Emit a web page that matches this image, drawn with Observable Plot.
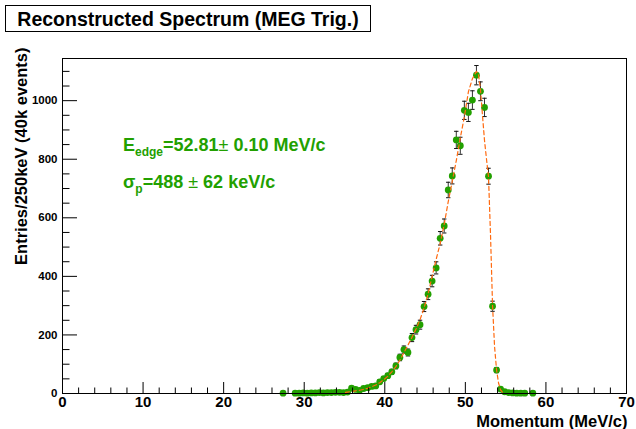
<!DOCTYPE html>
<html><head><meta charset="utf-8">
<script src="https://cdn.jsdelivr.net/npm/d3@7"></script>
<script src="https://cdn.jsdelivr.net/npm/@observablehq/plot@0.6"></script>
<style>
body{margin:0;background:#fff;font-family:"Liberation Sans",Arial,Helvetica,sans-serif;}
#wrap{position:relative;width:636px;height:429px;overflow:hidden;background:#fff}
#title{position:absolute;left:5px;top:5px;width:364px;height:25px;border:1px solid #000;font-weight:bold;font-size:19.5px;line-height:27px;text-align:center;background:#fff;z-index:2;color:#000;white-space:nowrap}
#chart{position:absolute;left:0;top:0}
</style></head><body>
<div id="wrap"><div id="title">Reconstructed Spectrum (MEG Trig.)</div><div id="chart"></div></div>
<script>
// Histogram bin centres (MeV/c)
const momentum = [27.375, 28.875, 29.375, 29.875, 30.375, 30.875, 31.375, 31.875, 32.375, 32.875,
  33.375, 33.875, 34.375, 34.875, 35.375, 35.875, 36.375, 36.875, 37.375, 37.875,
  38.375, 38.875, 39.375, 39.875, 40.375, 40.875, 41.375, 41.875, 42.375, 42.875,
  43.375, 43.875, 44.375, 44.875, 45.375, 45.875, 46.375, 46.875, 47.375, 47.875,
  48.375, 48.875, 49.375, 49.875, 50.375, 50.875, 51.375, 51.875, 52.375, 52.875,
  53.375, 53.875, 54.375, 54.875, 55.375, 55.875, 56.375, 56.875, 57.375, 58.375];
// Entries per bin
const entries = [1, 1, 1, 2, 1, 2, 2, 3, 2, 3,
  3, 4, 4, 3, 5, 18, 14, 11, 17, 20,
  24, 26, 40, 51, 61, 74, 94, 123, 150, 140,
  191, 218, 235, 297, 339, 384, 429, 530, 572, 695,
  743, 866, 846, 967, 960, 1002, 1087, 1032, 977, 742,
  298, 80, 15, 6, 3, 2, 1, 1, 1, 1];
// Statistical errors per bin
const errors = [1, 1, 1, 1.4, 1, 1.4, 1.4, 1.7, 1.4, 1.7,
  1.7, 2, 2, 1.7, 2.2, 4.2, 3.7, 3.3, 4.1, 4.5,
  4.9, 5.1, 6.3, 7.1, 7.8, 8.6, 9.7, 11.1, 12.2, 11.8,
  13.8, 14.8, 15.3, 17.2, 18.4, 19.6, 20.7, 23, 23.9, 26.4,
  27.3, 29.4, 29.1, 31.1, 31, 31.7, 33, 32.1, 31.3, 27.2,
  17.3, 8.9, 3.9, 2.4, 1.7, 1.4, 1, 1, 1, 1];
// Fitted function (dashed curve)
const fitMomentum = [35.125, 35.375, 35.875, 36.375, 36.875, 37.375, 37.875, 38.375, 38.875, 39.375,
  39.875, 40.375, 40.875, 41.375, 41.875, 42.375, 42.875, 43.375, 43.875, 44.375,
  44.875, 45.375, 45.875, 46.375, 46.875, 47.375, 47.875, 48.375, 48.875, 49.375,
  49.875, 50.375, 50.875, 51.375, 51.625, 51.875, 52.125, 52.375, 52.625, 52.875,
  53.125, 53.375, 53.625, 53.875, 54.125, 54.375, 54.625, 54.875];
const fitEntries = [4, 5, 7, 9, 11, 14, 18, 23, 29, 37,
  47, 59, 74, 92, 114, 139, 165, 192, 220, 252,
  292, 340, 400, 458, 512, 578, 655, 725, 795, 873,
  945, 1030, 1075, 1100, 1090, 1040, 950, 865, 800, 740,
  540, 300, 160, 80, 35, 12, 4, 1];
// Axis ticks
const xTicks = [0, 10, 20, 30, 40, 50, 60, 70];
const yTicks = [0, 200, 400, 600, 800, 1000];
const xMinor = d3.range(0, 71, 2).filter(v => v % 10 !== 0);
const yMinor = d3.range(0, 1144, 50).filter(v => v % 200 !== 0);

const points = momentum.map((m, i) => ({m, n: entries[i], e: errors[i]}));
const fit = fitMomentum.map((m, i) => ({m, n: fitEntries[i]}));

const W = 636, H = 429, mL = 62, mR = 10, mT = 58, mB = 36;
const fw = W - mL - mR, fh = H - mT - mB;
const green = "#22a000";
const font = "'Liberation Sans', Arial, Helvetica, sans-serif";

const capSymbol = {draw(ctx, size) { const r = Math.sqrt(size / Math.PI); ctx.moveTo(-r, 0); ctx.lineTo(r, 0); }};

const plot = Plot.plot({
  width: W, height: H,
  marginLeft: mL, marginRight: mR, marginTop: mT, marginBottom: mB,
  style: {fontFamily: font, background: "transparent", color: "#000", overflow: "visible"},
  x: {domain: [0, 70], label: null},
  y: {domain: [0, 1144], label: null},
  marks: [
    Plot.ruleX(points, {x: "m", y1: d => d.n - d.e, y2: d => d.n + d.e, stroke: "#333", strokeWidth: 1}),
    Plot.dot(points, {x: "m", y: d => d.n + d.e, symbol: capSymbol, r: 2.2, stroke: "#111", fill: "none", strokeWidth: 1}),
    Plot.dot(points, {x: "m", y: d => d.n - d.e, symbol: capSymbol, r: 2.2, stroke: "#111", fill: "none", strokeWidth: 1}),
    Plot.dot(points, {x: "m", y: "n", r: 3.4, fill: green, stroke: "none"}),
    Plot.line(fit, {x: "m", y: "n", stroke: "#ff6a10", strokeWidth: 1.2, strokeDasharray: "4,3"}),
    Plot.frame({stroke: "#000", strokeWidth: 1}),
    Plot.ruleX(xTicks, {x: d => d, insetTop: fh - 11, stroke: "#000"}),
    Plot.ruleX(xMinor, {x: d => d, insetTop: fh - 5.5, stroke: "#000"}),
    Plot.ruleY(yTicks, {y: d => d, insetRight: fw - 15, stroke: "#000"}),
    Plot.ruleY(yMinor, {y: d => d, insetRight: fw - 7.5, stroke: "#000"}),
    Plot.axisX({ticks: xTicks, tickSize: 0, tickPadding: 3, fontSize: 15, fontWeight: "bold", tickFormat: d => String(d), label: null}),
    Plot.axisY({ticks: yTicks, tickSize: 0, tickPadding: 5, fontSize: 11.5, fontWeight: "bold", tickFormat: d => String(d), label: null}),
    Plot.text(["Entries/250keV (40k events)"], {frameAnchor: "top-left", rotate: -90, textAnchor: "end", dx: -47, dy: -11, fontSize: 16.5, fontWeight: "bold", fill: "#000"}),
    Plot.text(["Momentum (MeV/c)"], {frameAnchor: "bottom-right", textAnchor: "end", lineAnchor: "bottom", dx: 1, dy: 33, fontSize: 16.5, fontWeight: "bold", fill: "#000"})
  ]
});
document.getElementById("chart").appendChild(plot);

// Fit-result annotations
const svg = d3.select(plot);
const t1 = svg.append("text").attr("x", 123).attr("y", 151).attr("fill", green).attr("text-anchor", "start")
  .attr("font-family", font).attr("font-size", 18).attr("font-weight", "bold");
t1.append("tspan").text("E");
t1.append("tspan").attr("font-size", 12).attr("dy", 5).text("edge");
t1.append("tspan").attr("dy", -5).text("=52.81");
t1.append("tspan").attr("font-weight", "normal").text("\u00B1");
t1.append("tspan").text(" 0.10 MeV/c");
const t2 = svg.append("text").attr("x", 123).attr("y", 188).attr("fill", green).attr("text-anchor", "start")
  .attr("font-family", font).attr("font-size", 18).attr("font-weight", "bold");
t2.append("tspan").text("\u03C3");
t2.append("tspan").attr("font-size", 12).attr("dy", 5).text("p");
t2.append("tspan").attr("dy", -5).text("=488 ");
t2.append("tspan").attr("font-weight", "normal").text("\u00B1");
t2.append("tspan").text(" 62 keV/c");
</script>
</body></html>
